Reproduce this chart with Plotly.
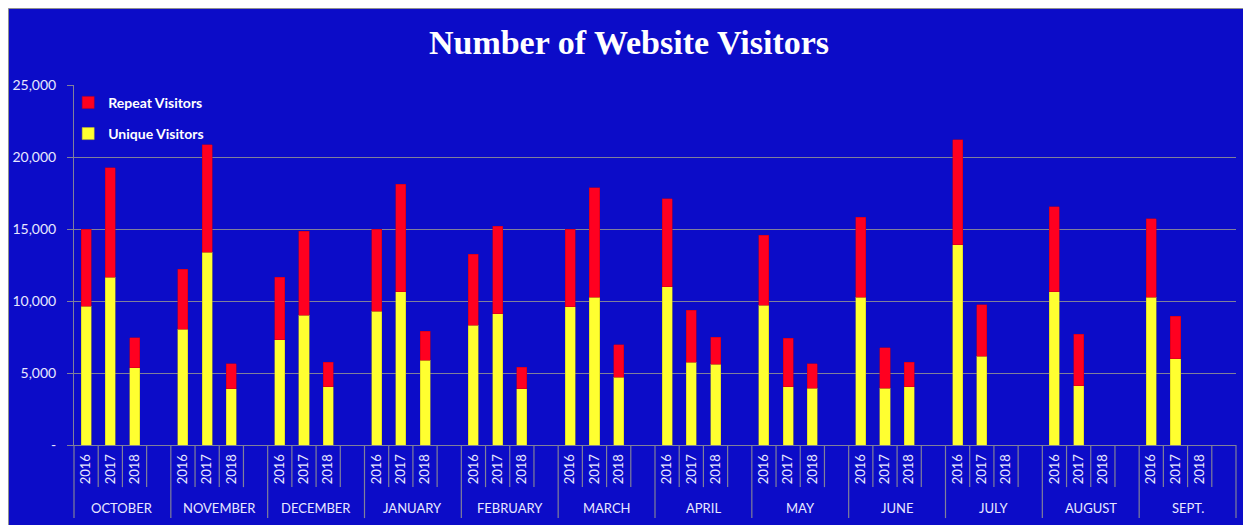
import plotly.graph_objects as go

months = ["OCTOBER", "NOVEMBER", "DECEMBER", "JANUARY", "FEBRUARY", "MARCH",
          "APRIL", "MAY", "JUNE", "JULY", "AUGUST", "SEPT."]
years = ["2016", "2017", "2018"]

# Unique visitors per month, by year (2016, 2017, 2018)
unique = [
    [9650, 11650, 5350],
    [8050, 13400, 3900],
    [7300, 9000, 4050],
    [9300, 10650, 5900],
    [8300, 9100, 3900],
    [9600, 10250, 4700],
    [11000, 5750, 5600],
    [9700, 4050, 3950],
    [10250, 3950, 4050],
    [13900, 6150, None],
    [10650, 4100, None],
    [10250, 6000, None],
]
# Repeat visitors per month, by year (2016, 2017, 2018)
repeat = [
    [5350, 7600, 2100],
    [4150, 7450, 1750],
    [4350, 5850, 1700],
    [5700, 7450, 2000],
    [4950, 6100, 1500],
    [5400, 7600, 2250],
    [6100, 3600, 1900],
    [4850, 3350, 1700],
    [5550, 2800, 1700],
    [7300, 3600, None],
    [5900, 3600, None],
    [5450, 2950, None],
]

y_ticks = [0, 5000, 10000, 15000, 20000, 25000]
y_ticktext = ["-", "5,000", "10,000", "15,000", "20,000", "25,000"]

BLUE = "#0C0CC8"
RED = "#FF0020"
YELLOW = "#FFFF30"
GRID = "#80809A"
TXT = "#E8E8FF"
FONT = "Lato"

W, H = 1243, 517
ML, MR, MT, MB = 66, 15, 77, 80
PW, PH = W - ML - MR, H - MT - MB

# build categories (3 years + one empty slot per month)
cats, ticktext = [], []
for m in months:
    for y in years:
        cats.append(f"{m}|{y}")
        ticktext.append(y)
    cats.append(f"{m}|gap")
    ticktext.append("")

bar_x, u_vals, r_vals = [], [], []
for mi, m in enumerate(months):
    for yi, y in enumerate(years):
        bar_x.append(f"{m}|{y}")
        u_vals.append(unique[mi][yi])
        r_vals.append(repeat[mi][yi])

fig = go.Figure()
fig.add_trace(go.Bar(x=bar_x, y=u_vals, name="Unique Visitors", marker_color=YELLOW,
                     marker_line=dict(color="#C8C020", width=0.5),
                     legendgroup="u", legendrank=2))
fig.add_trace(go.Bar(x=bar_x, y=r_vals, name="Repeat Visitors", marker_color=RED,
                     marker_line=dict(color="#C00018", width=0.5),
                     legendgroup="r", legendrank=1))

n = len(cats)
shapes = []
# blue chart area with thin border
shapes.append(dict(type="rect", xref="paper", yref="paper",
                   x0=(0.5 - ML) / PW, x1=(W + 5 - ML) / PW,
                   y0=-(MB + 5) / PH, y1=(PH + MT - 0.5) / PH,
                   fillcolor=BLUE, line=dict(color="#909090", width=1), layer="below"))
# slot and month dividers below the axis
for i in range(n + 1):
    long = (i % 4 == 0)
    shapes.append(dict(type="line", xref="paper", yref="paper",
                       x0=i / n, x1=i / n, y0=0, y1=-0.203 if long else -0.117,
                       line=dict(color=GRID, width=1.2)))

annotations = []
for mi, m in enumerate(months):
    annotations.append(dict(xref="paper", yref="paper", x=(4 * mi + 2) / n, y=-0.175,
                            text=m, showarrow=False, xanchor="center", yanchor="middle",
                            font=dict(family=FONT, size=13, color=TXT)))

fig.update_layout(
    width=W, height=H,
    margin=dict(l=ML, r=MR, t=MT, b=MB, autoexpand=False),
    paper_bgcolor="white",
    plot_bgcolor="rgba(0,0,0,0)",
    barmode="stack",
    bargap=0.585,
    title=dict(text="<b>Number of Website Visitors</b>", x=0.4996, xanchor="center",
               y=1 - 34 / H, yanchor="middle", yref="container",
               font=dict(family="Liberation Serif", size=34, color="white")),
    font=dict(family=FONT, color=TXT),
    xaxis=dict(type="category", categoryorder="array", categoryarray=cats,
               tickmode="array", tickvals=cats, ticktext=ticktext, tickangle=-90,
               range=[-0.5, n - 0.5], showgrid=False, ticks="", showline=True,
               linecolor=GRID, linewidth=1, automargin=False, ticklabelstandoff=3,
               tickfont=dict(family=FONT, size=13, color=TXT)),
    yaxis=dict(range=[0, 25000], tickmode="array", tickvals=y_ticks, ticktext=y_ticktext,
               showgrid=True, gridcolor=GRID, gridwidth=1, zeroline=False,
               showline=True, linecolor=GRID, linewidth=1, ticks="outside",
               ticklen=6, tickcolor=GRID, automargin=False, ticklabelstandoff=8,
               tickfont=dict(family=FONT, size=14, color=TXT)),
    legend=dict(x=-0.005, y=0.995, xanchor="left", yanchor="top",
                bgcolor="rgba(0,0,0,0)", traceorder="grouped",
                tracegroupgap=10, itemwidth=30,
                font=dict(family=FONT, size=14, color="white", weight="bold")),
    shapes=shapes,
    annotations=annotations,
    showlegend=True,
)

fig.write_html("out.html")
